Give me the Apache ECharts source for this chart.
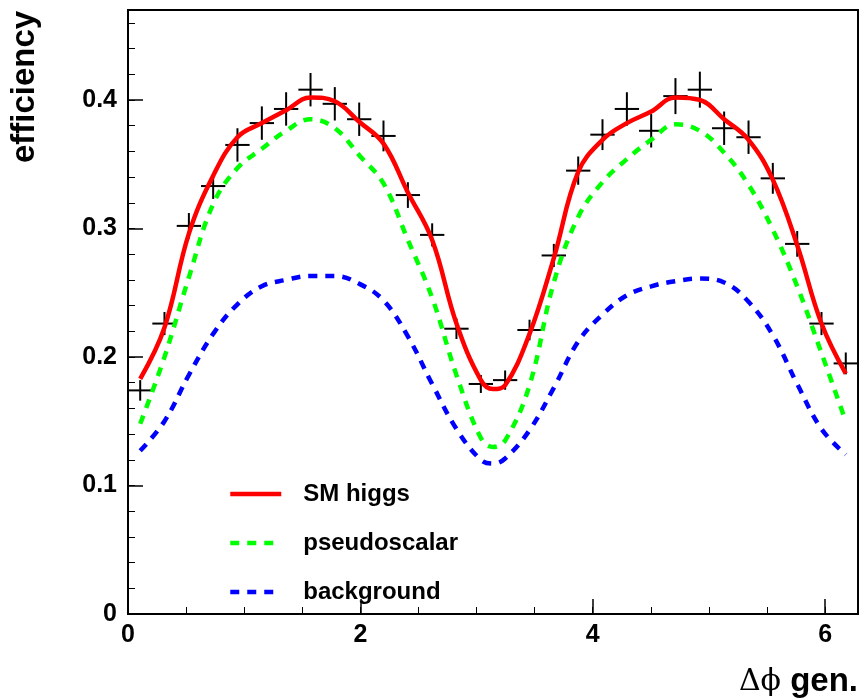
<!DOCTYPE html>
<html>
<head>
<meta charset="utf-8">
<script src="https://cdn.jsdelivr.net/npm/echarts@6/dist/echarts.min.js"></script>
<style>
html,body{margin:0;padding:0;background:#fff;}
#chart{width:861px;height:698px;}
</style>
</head>
<body>
<div id="chart"></div>
<script>
// ---- data ----
const binCenters = [0.105, 0.314, 0.524, 0.733, 0.942, 1.152, 1.361, 1.571, 1.780, 1.990,
                    2.199, 2.409, 2.618, 2.827, 3.037, 3.246, 3.456, 3.665, 3.875, 4.084,
                    4.294, 4.503, 4.712, 4.922, 5.131, 5.341, 5.550, 5.760, 5.969, 6.178];
const binHalfWidth = 0.1047;
const measured = [0.174, 0.226, 0.302, 0.333, 0.365, 0.382, 0.393, 0.408, 0.397, 0.385,
                  0.372, 0.326, 0.295, 0.222, 0.179, 0.182, 0.221, 0.279, 0.345, 0.373,
                  0.393, 0.376, 0.403, 0.408, 0.378, 0.371, 0.339, 0.288, 0.226, 0.195];
const measuredErr = [0.008, 0.009, 0.010, 0.010, 0.013, 0.013, 0.013, 0.013, 0.013, 0.013,
                     0.012, 0.010, 0.009, 0.008, 0.007, 0.0075, 0.008, 0.009, 0.011, 0.012,
                     0.013, 0.013, 0.014, 0.014, 0.013, 0.013, 0.012, 0.010, 0.009, 0.0085];

const curveX = [0.105, 0.314, 0.524, 0.733, 0.942, 1.152, 1.361, 1.571, 1.780, 1.990,
                2.199, 2.409, 2.618, 2.827, 3.037, 3.142, 3.246, 3.456, 3.665, 3.875, 4.084,
                4.294, 4.503, 4.712, 4.922, 5.131, 5.341, 5.550, 5.760, 5.969, 6.178];
const smHiggs = [0.183, 0.223, 0.296, 0.341, 0.371, 0.382, 0.392, 0.402, 0.399, 0.383,
                 0.366, 0.328, 0.291, 0.226, 0.182, 0.175, 0.178, 0.218, 0.277, 0.344, 0.369,
                 0.382, 0.391, 0.402, 0.400, 0.385, 0.369, 0.338, 0.287, 0.226, 0.187];
const pseudoscalar = [0.148, 0.200, 0.262, 0.319, 0.347, 0.362, 0.376, 0.385, 0.378, 0.357,
                      0.335, 0.291, 0.246, 0.186, 0.137, 0.130, 0.135, 0.178, 0.258, 0.309, 0.336,
                      0.354, 0.369, 0.381, 0.376, 0.359, 0.334, 0.299, 0.255, 0.203, 0.150];
const background = [0.127, 0.150, 0.186, 0.218, 0.241, 0.255, 0.260, 0.263, 0.263, 0.257,
                    0.244, 0.216, 0.179, 0.144, 0.120, 0.117, 0.121, 0.143, 0.176, 0.212, 0.233,
                    0.248, 0.255, 0.259, 0.261, 0.258, 0.243, 0.217, 0.179, 0.144, 0.124];

const seriesNames = ['SM higgs', 'pseudoscalar', 'background'];
const xRange = [0, 6.2832];
const yRange = [0, 0.47];
const xTickStep = 2, xMinorStep = 0.5;
const yTickStep = 0.1, yMinorStep = 0.02;
const xTitle = ['Δϕ', 'gen.'];
const yTitle = 'efficiency';

// ---- chart ----
const FONT = "'Liberation Sans', Arial, Helvetica, sans-serif";
const chart = echarts.init(document.getElementById('chart'), null, {renderer: 'canvas'});

function pairs(xs, ys) { return xs.map((x, i) => [x, ys[i]]); }

const option = {
  animation: false,
  backgroundColor: '#fff',
  grid: {left: 128, right: 3, top: 10, bottom: 84, show: true, borderColor: '#000', borderWidth: 2, backgroundColor: 'transparent'},
  xAxis: [
    {type: 'value', min: xRange[0], max: xRange[1], interval: xTickStep, position: 'bottom',
     axisLine: {show: true, onZero: false, lineStyle: {color: '#000', width: 2}},
     axisTick: {show: true, inside: true, length: 15, lineStyle: {color: '#000', width: 1.5}},
     axisLabel: {show: true, margin: 9, showMaxLabel: false, color: '#000', fontSize: 25, fontWeight: 'bold', fontFamily: FONT},
     splitLine: {show: false}},
    {type: 'value', min: xRange[0], max: xRange[1], interval: xMinorStep, position: 'bottom',
     axisLine: {show: false, onZero: false},
     axisTick: {show: true, inside: true, length: 7, lineStyle: {color: '#000', width: 1}},
     axisLabel: {show: false}, splitLine: {show: false}}
  ],
  yAxis: [
    {type: 'value', min: yRange[0], max: yRange[1], interval: yTickStep, position: 'left',
     axisLine: {show: true, onZero: false, lineStyle: {color: '#000', width: 2}},
     axisTick: {show: true, inside: true, length: 15, lineStyle: {color: '#000', width: 1.5}},
     axisLabel: {show: true, margin: 11, showMaxLabel: false, color: '#000', fontSize: 25, fontWeight: 'bold', fontFamily: FONT},
     splitLine: {show: false}},
    {type: 'value', min: yRange[0], max: yRange[1], interval: yMinorStep, position: 'left',
     axisLine: {show: false, onZero: false},
     axisTick: {show: true, inside: true, length: 7, lineStyle: {color: '#000', width: 1}},
     axisLabel: {show: false}, splitLine: {show: false}}
  ],
  legend: {
    data: seriesNames,
    orient: 'vertical',
    left: 223, top: 477,
    itemWidth: 51, itemHeight: 14, itemGap: 25,
    itemStyle: {opacity: 0},
    lineStyle: {width: 4.5},
    textStyle: {color: '#000', fontSize: 24, fontWeight: 'bold', fontFamily: FONT, lineHeight: 24, padding: [0, 0, 0, 17]},
    selectedMode: false
  },
  graphic: [
    {type: 'text', x: 25, y: 87, rotation: Math.PI / 2,
     style: {text: yTitle, fill: '#000', font: "bold 33px " + FONT, textAlign: 'center', textVerticalAlign: 'middle'}},
    {type: 'text', x: 858, y: 682,
     style: {text: '{a|' + xTitle[0] + '}{b| ' + xTitle[1] + '}', textAlign: 'right', textVerticalAlign: 'middle',
       rich: {a: {fontFamily: "'DejaVu Serif', 'Liberation Serif', serif", fontSize: 30, fill: '#000', color: '#000'},
              b: {fontFamily: FONT, fontWeight: 'bold', fontSize: 33, fill: '#000', color: '#000'}}}}
  ],
  series: [
    {
      type: 'custom', name: 'data', xAxisIndex: 0, yAxisIndex: 0, z: 2,
      data: binCenters.map((x, i) => [x, measured[i], measuredErr[i]]),
      renderItem: function (params, api) {
        const x = api.value(0), y = api.value(1), e = api.value(2);
        const l = api.coord([Math.max(x - binHalfWidth, xRange[0]), y]);
        const r = api.coord([x + binHalfWidth, y]);
        const t = api.coord([x, y + e]);
        const b = api.coord([x, y - e]);
        return {type: 'group', children: [
          {type: 'line', shape: {x1: l[0], y1: l[1], x2: r[0], y2: r[1]}, style: {stroke: '#000', lineWidth: 2}},
          {type: 'line', shape: {x1: t[0], y1: t[1], x2: b[0], y2: b[1]}, style: {stroke: '#000', lineWidth: 2}}
        ]};
      }
    },
    {name: seriesNames[0], type: 'line', xAxisIndex: 0, yAxisIndex: 0, z: 5,
     data: pairs(curveX, smHiggs), smooth: 0.4, symbol: 'none',
     lineStyle: {color: '#ff0000', width: 4.5}, itemStyle: {color: '#ff0000'}},
    {name: seriesNames[1], type: 'line', xAxisIndex: 0, yAxisIndex: 0, z: 4,
     data: pairs(curveX, pseudoscalar), smooth: 0.4, symbol: 'none',
     lineStyle: {color: '#00ff00', width: 4.5, type: [9, 8]}, itemStyle: {color: '#00ff00'}},
    {name: seriesNames[2], type: 'line', xAxisIndex: 0, yAxisIndex: 0, z: 3,
     data: pairs(curveX, background), smooth: 0.4, symbol: 'none',
     lineStyle: {color: '#0000ff', width: 4.5, type: [9, 8]}, itemStyle: {color: '#0000ff'}}
  ]
};
chart.setOption(option);
</script>
</body>
</html>
